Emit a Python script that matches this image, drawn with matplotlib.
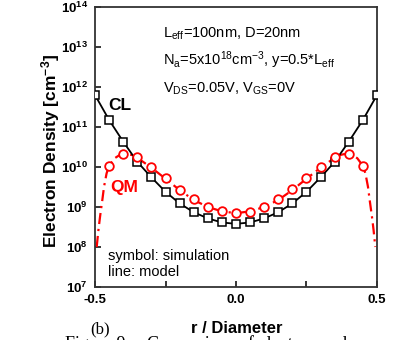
import numpy as np
import matplotlib
matplotlib.use("Agg")
import matplotlib.pyplot as plt
from matplotlib.ticker import FixedLocator, FuncFormatter, NullFormatter

plt.rcParams["font.family"] = ["Liberation Sans", "DejaVu Sans"]
plt.rcParams["mathtext.fontset"] = "custom"
plt.rcParams["mathtext.rm"] = "Liberation Sans"
plt.rcParams["mathtext.it"] = "Liberation Sans:italic"
plt.rcParams["mathtext.bf"] = "Liberation Sans:bold"

# ---- simulation points (symbols) ----
r_sim = [-0.50, -0.45, -0.40, -0.35, -0.30, -0.25, -0.20, -0.15, -0.10, -0.05, 0.00,
         0.05, 0.10, 0.15, 0.20, 0.25, 0.30, 0.35, 0.40, 0.45, 0.50]
n_cl = [6.3e11, 1.5e11, 4.3e10, 1.35e10, 5.5e9, 2.4e9, 1.23e9, 7.4e8, 5.2e8, 4.1e8, 3.8e8,
        4.1e8, 5.2e8, 7.4e8, 1.23e9, 2.4e9, 5.5e9, 1.35e10, 4.3e10, 1.5e11, 6.3e11]

r_qm_sim = [-0.45, -0.40, -0.35, -0.30, -0.25, -0.20, -0.15, -0.10, -0.05, 0.00,
            0.05, 0.10, 0.15, 0.20, 0.25, 0.30, 0.35, 0.40, 0.45]
n_qm_sim = [1.07e10, 2.14e10, 1.74e10, 9.8e9, 5.2e9, 2.7e9, 1.55e9, 1.02e9, 8.1e8, 6.9e8,
            7.6e8, 1.02e9, 1.55e9, 2.75e9, 5.2e9, 9.8e9, 1.74e10, 2.14e10, 1.07e10]

# ---- QM model curve (line) ----
r_qm_model = [-0.494, -0.488, -0.482, -0.474, -0.468, -0.459, -0.45, -0.43, -0.41, -0.39,
              -0.37, -0.35, -0.30, -0.25, -0.20, -0.15, -0.10, -0.05, 0.00,
              0.05, 0.10, 0.15, 0.20, 0.25, 0.30, 0.35, 0.37, 0.39, 0.41, 0.43,
              0.45, 0.459, 0.468, 0.474, 0.482, 0.488, 0.494]
n_qm_model = [1.0e8, 2.6e8, 5.8e8, 1.5e9, 3.2e9, 6.9e9, 1.07e10, 1.66e10, 2.05e10, 2.15e10,
              2.0e10, 1.7e10, 9.6e9, 5.1e9, 2.65e9, 1.5e9, 1.0e9, 7.8e8, 7.0e8,
              7.8e8, 1.0e9, 1.5e9, 2.65e9, 5.1e9, 9.6e9, 1.7e10, 2.0e10, 2.15e10, 2.05e10, 1.66e10,
              1.07e10, 6.9e9, 3.2e9, 1.5e9, 5.8e8, 2.6e8, 1.0e8]

x_ticks = [-0.5, -0.25, 0.0, 0.25, 0.5]
x_ticklabels = ["-0.5", "", "0.0", "", "0.5"]
y_decades = [7, 8, 9, 10, 11, 12, 13, 14]

W, H = 399, 340
fig = plt.figure(figsize=(W / 100, H / 100), dpi=100)
ax = fig.add_axes([95 / W, 1 - 287 / H, (377 - 95) / W, (287 - 7) / H])

ax.plot(r_sim, n_cl, color="black", lw=1.3, marker="s", ms=5.2,
        mfc="white", mec="black", mew=1.1, zorder=3)
ax.plot(r_qm_model, n_qm_model, color="red", lw=1.6,
        linestyle=(0, (5, 2.2, 1, 2.2)), zorder=2)
ax.plot(r_qm_sim, n_qm_sim, linestyle="none", marker="o", ms=6.2,
        mfc="white", mec="red", mew=1.3, zorder=4)

ax.set_yscale("log")
ax.set_xlim(-0.5, 0.5)
ax.set_ylim(1e7, 1e14)
ax.yaxis.set_major_locator(FixedLocator([10.0 ** d for d in y_decades]))
ax.yaxis.set_minor_formatter(NullFormatter())
ax.yaxis.set_minor_locator(FixedLocator([]))
ax.yaxis.set_major_formatter(
    FuncFormatter(lambda v, p: r"$\mathbf{10^{%d}}$" % round(np.log10(v))))
ax.set_xticks(x_ticks)
ax.set_xticklabels(x_ticklabels, fontweight="bold", fontsize=10)
ax.tick_params(direction="in", length=4, width=1.1, top=False, right=False,
               labelsize=9.5, pad=5, colors="black")
for s in ax.spines.values():
    s.set_linewidth(1.3)
    s.set_color("#333333")

fig.text(237 / W, 1 - 333 / H, "r / Diameter", ha="center", va="baseline",
         fontsize=12, fontweight="bold")
fig.text(51 / W, 1 - 151 / H, r"Electron Density [cm$^{\mathbf{-3}}$]",
         rotation=90, ha="center", va="center", fontsize=12.5, fontweight="bold")

txt = dict(transform=ax.transAxes, fontsize=10.5, va="baseline", ha="left")
ax.text(0.241, 0.889, r"L$_\mathrm{eff}$=100nm, D=20nm", **txt)
ax.text(0.241, 0.793, r"N$_\mathrm{a}$=5x10$^{18}$cm$^{-3}$, y=0.5*L$_\mathrm{eff}$", **txt)
ax.text(0.241, 0.696, r"V$_\mathrm{DS}$=0.05V, V$_\mathrm{GS}$=0V", **txt)
ax.text(0.046, 0.096, "symbol: simulation", **txt)
ax.text(0.046, 0.039, "line: model", **txt)
ax.text(0.046, 0.632, "CL", transform=ax.transAxes, fontsize=12.5,
        fontweight="bold", va="baseline")
ax.text(0.053, 0.339, "QM", transform=ax.transAxes, fontsize=12.5,
        fontweight="bold", color="red", va="baseline")

# panel tag and the caption running off the bottom edge
fig.text(90 / W, 1 - 333 / H, "(b)", family="Liberation Serif", fontsize=12,
         va="baseline")
fig.text(65 / W, 1 - 349 / H, "Figure 9.", family="Liberation Serif", fontsize=13,
         va="baseline")
fig.text(147 / W, 1 - 349 / H, "Comparison of electron and", family="Liberation Serif",
         fontsize=13, va="baseline")

fig.savefig("out.png", dpi=100)
